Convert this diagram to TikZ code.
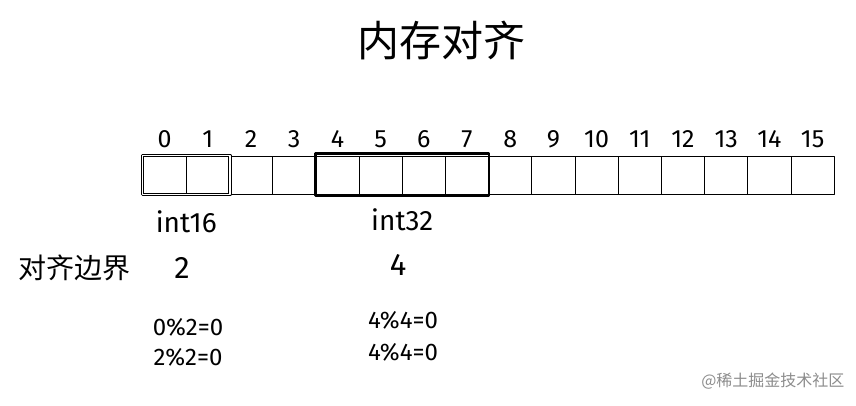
\documentclass[tikz,border=0pt]{standalone}
\usepackage{fontspec}
\setmainfont{Fira Sans}
\newfontfamily\cjk{Noto Sans CJK SC}
\usetikzlibrary{positioning}
\begin{document}
\begin{tikzpicture}[x=1pt,y=-1pt,line join=round,
    cell/.style={draw,line width=0.8pt,minimum width=43.2pt,minimum height=38pt,inner sep=0pt,outer sep=0pt},
    num/.style={font=\fontsize{25}{25}\selectfont,anchor=base,inner sep=0pt},
    lbl/.style={font=\fontsize{28}{28}\selectfont,inner sep=0pt},
    big/.style={font=\fontsize{31}{31}\selectfont,inner sep=0pt},
    expr/.style={font=\fontsize{24}{24}\selectfont,inner sep=0pt}]
	\useasboundingbox (0,0) rectangle (856,405);
	\node[font=\cjk\fontsize{42}{42}\selectfont] (title) at (441,40) {内存对齐};
	\foreach \i in {0,...,15}{
		\node[cell] (c\i) at ({143+43.2*(\i+0.5)},175) {};
		\node[num] (n\i) at ([yshift=9pt]c\i.north) {\i};
	}
	\draw[double,line width=0.9pt,double distance=1.4pt] ([shift={(-0.6pt,0.6pt)}]c0.north west) rectangle ([shift={(0.6pt,-0.6pt)}]c1.south east);
	\draw[line width=2.6pt] ([shift={(-0.5pt,2.5pt)}]c4.north west) rectangle ([shift={(0.5pt,-1.5pt)}]c7.south east);
	\node[lbl] (t16) at ([yshift=-28pt]c0.south east) {int16};
	\node[lbl] (t32) at ([yshift=-26pt]c5.south east) {int32};
	\node[big] (a16) at (182,268) {2};
	\node[big] (a32) at (398,265) {4};
	\node[font=\cjk\fontsize{28}{28}\selectfont,left=40pt of a16] (bound) {对齐边界};
	\node[expr] (e16a) at (188,327) {0\%2=0};
	\node[expr] (e16b) at (188,357) {2\%2=0};
	\node[expr] (e32a) at (403,320) {4\%4=0};
	\node[expr] (e32b) at (403,352) {4\%4=0};
	\node[font=\cjk\fontsize{16}{16}\selectfont,text=black!45,anchor=east] (mark) at (848,381) {@稀土掘金技术社区};
\end{tikzpicture}
\end{document}
